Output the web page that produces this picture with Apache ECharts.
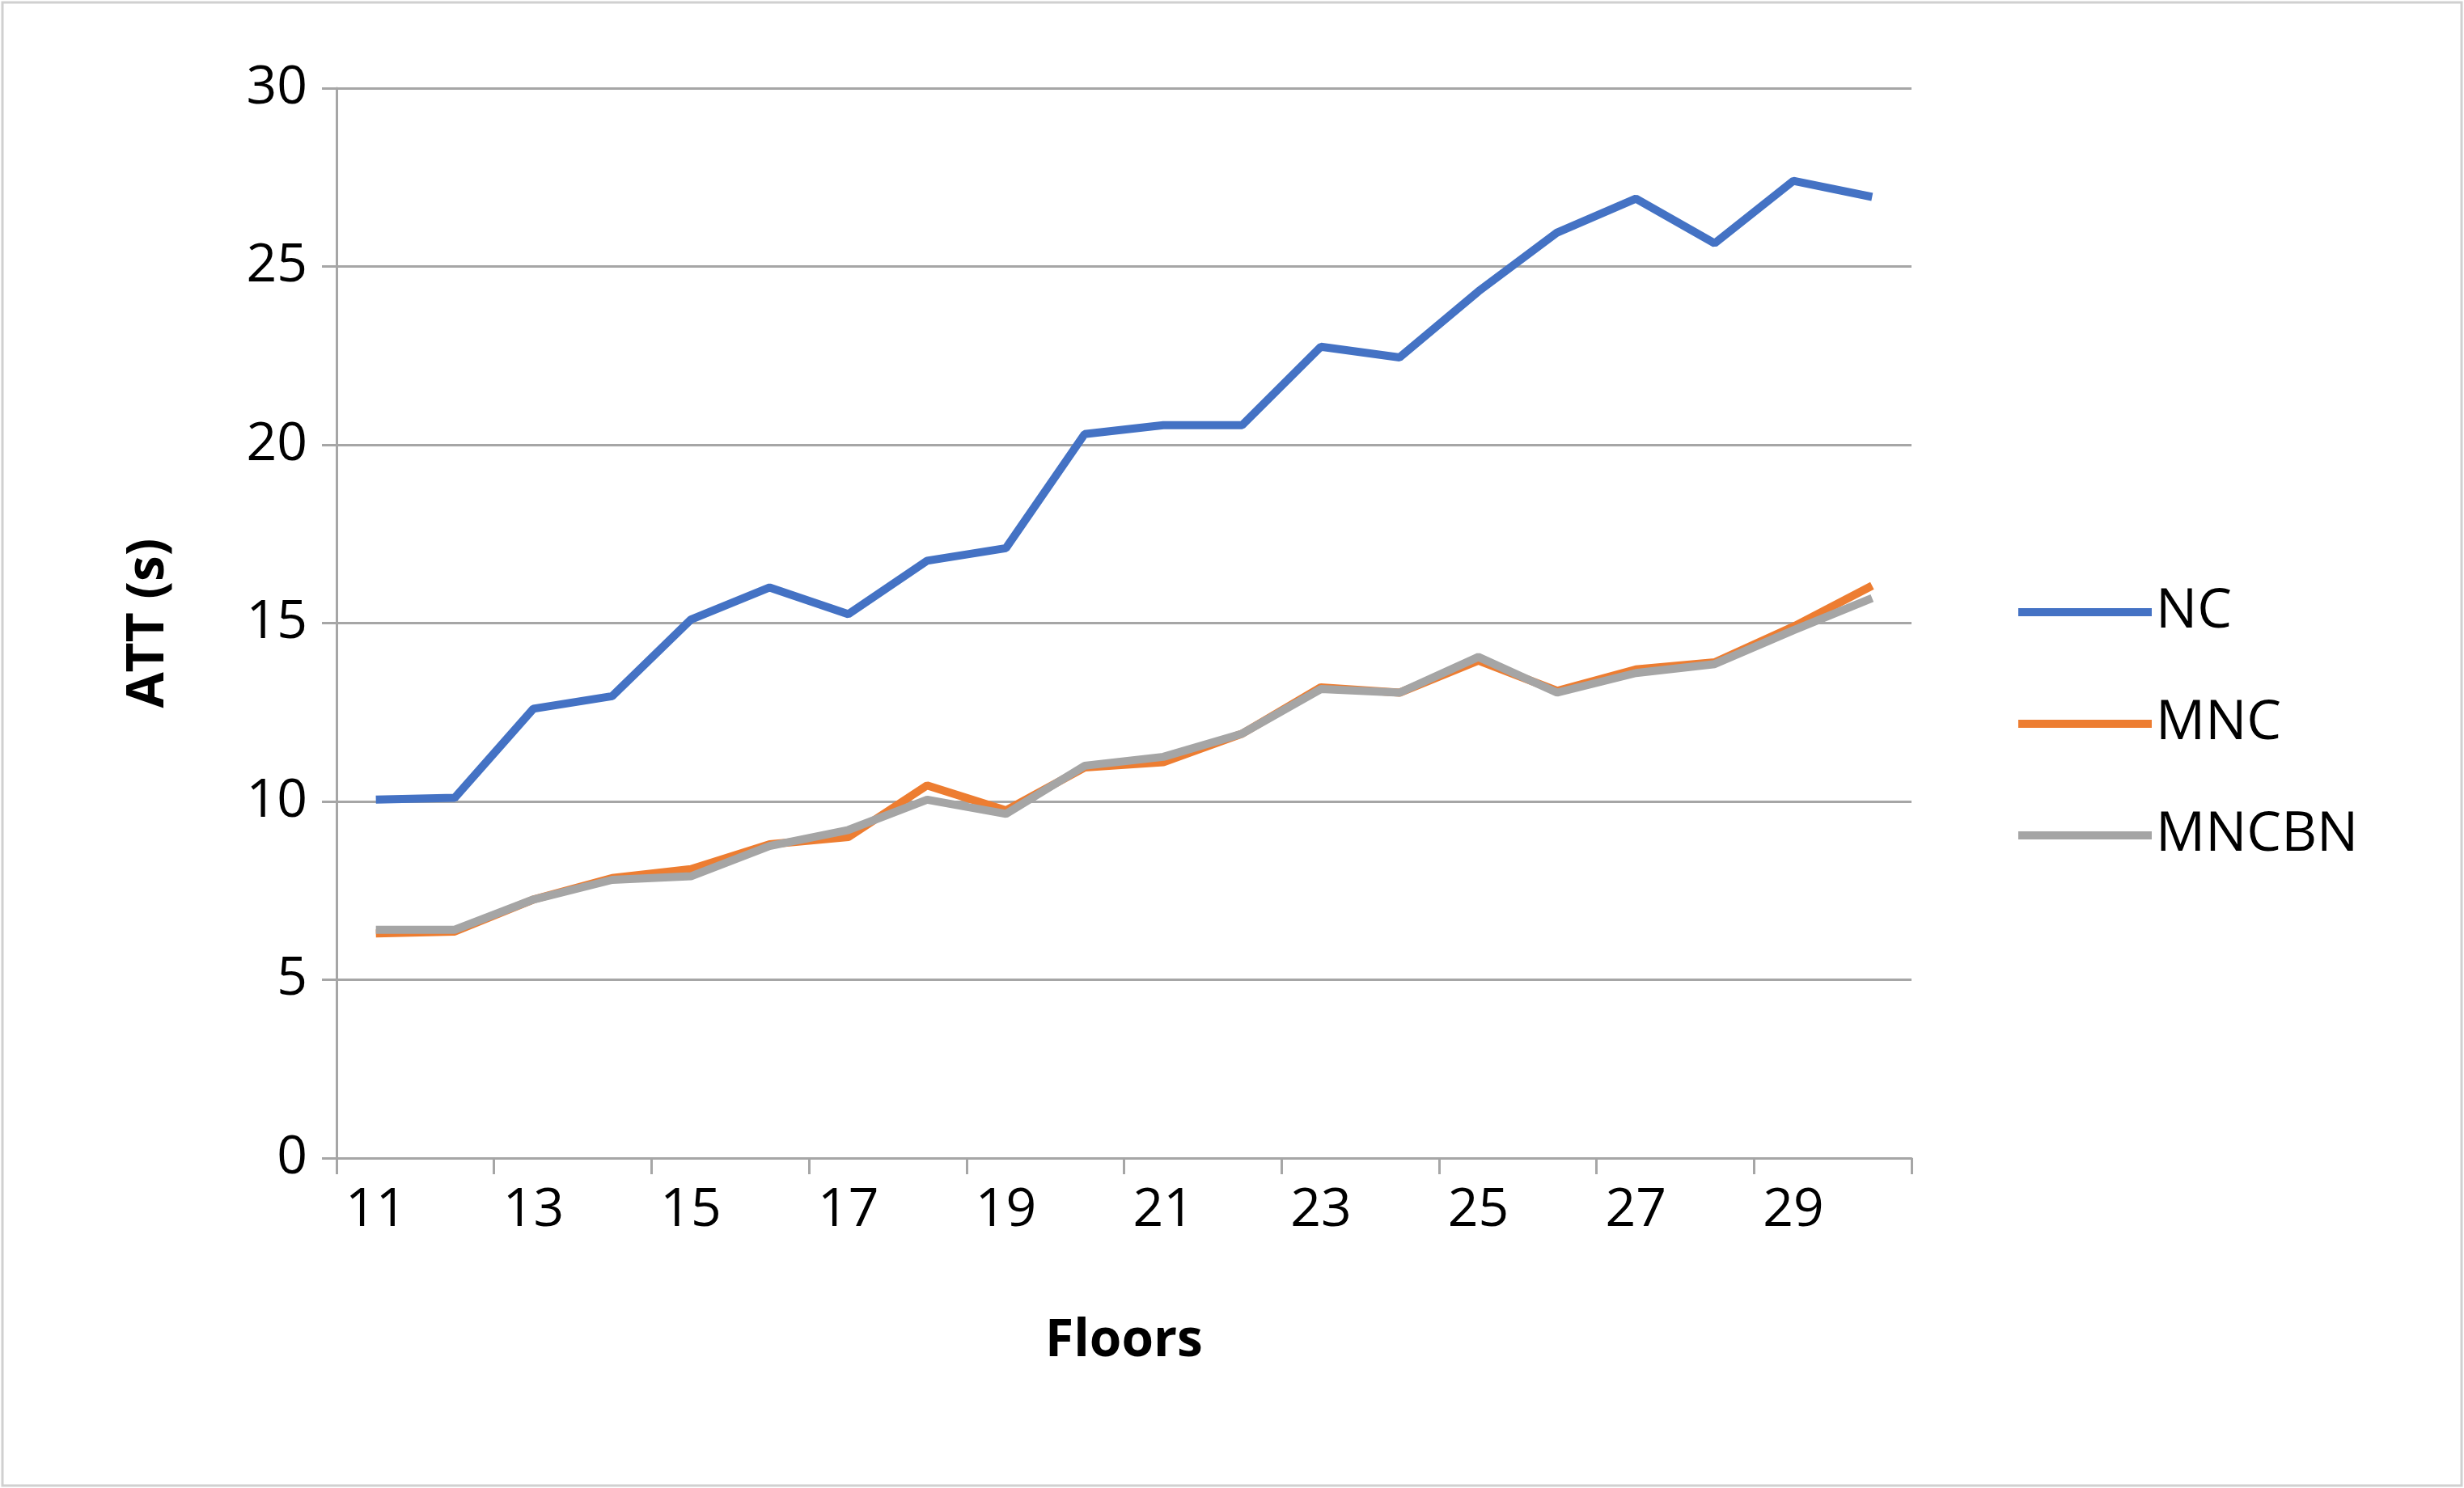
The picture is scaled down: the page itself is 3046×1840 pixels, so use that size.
<!DOCTYPE html>
<html>
<head>
<meta charset="utf-8">
<script src="https://cdn.jsdelivr.net/npm/echarts@6/dist/echarts.min.js"></script>
<style>html,body{margin:0;padding:0;background:#fff}#chart{width:3046px;height:1840px}</style>
</head>
<body>
<div id="chart"></div>
<script>
// 楼层
var floors = ['11','12','13','14','15','16','17','18','19','20','21','22','23','24','25','26','27','28','29','30'];
// 各方案的ATT
var ncData = [10.05, 10.1, 12.6, 12.95, 15.1, 16.0, 15.25, 16.75, 17.1, 20.3, 20.55, 20.55, 22.75, 22.45, 24.3, 25.95, 26.9, 25.65, 27.4, 26.95];
var mncData = [6.3, 6.35, 7.25, 7.85, 8.1, 8.8, 9.0, 10.45, 9.75, 10.95, 11.1, 11.9, 13.2, 13.05, 13.95, 13.1, 13.7, 13.9, 14.9, 16.05];
var mncbnData = [6.4, 6.4, 7.25, 7.8, 7.9, 8.75, 9.2, 10.05, 9.65, 11.0, 11.25, 11.9, 13.15, 13.05, 14.05, 13.05, 13.6, 13.85, 14.8, 15.7];

var font = '"Open Sans", sans-serif';
var chart = echarts.init(document.getElementById('chart'));
function line(name, data, color) {
	return {
		name: name,
		type: 'line',
		data: data,
		symbol: 'none',
		lineStyle: { width: 10, color: color },
		itemStyle: { color: color }
	};
}
chart.setOption({
	animation: false,
	textStyle: { fontFamily: font },
	graphic: [{
		type: 'rect',
		shape: { x: 3, y: 3, width: 3040, height: 1834 },
		style: { fill: 'none', stroke: '#d0d0d0', lineWidth: 3 }
	}],
	legend: {
		orient: 'vertical',
		left: 2490,
		top: 718,
		itemGap: 70,
		itemWidth: 165,
		itemHeight: 10,
		icon: 'rect',
		data: ['NC', 'MNC', 'MNCBN'],
		textStyle: { fontSize: 68, color: '#000', fontFamily: font }
	},
	grid: { left: 416, right: 683, top: 109, bottom: 408 },
	xAxis: {
		type: 'category',
		data: floors,
		boundaryGap: true,
		name: 'Floors',
		nameLocation: 'middle',
		nameGap: 195,
		nameTextStyle: { fontSize: 64, fontWeight: 'bold', color: '#000' },
		axisLine: { lineStyle: { color: '#a6a6a6', width: 3 } },
		axisTick: { show: true, length: 20, lineStyle: { color: '#a6a6a6', width: 3 } },
		axisLabel: { fontSize: 66, color: '#000', margin: 32 }
	},
	yAxis: {
		type: 'value',
		min: 0,
		max: 30,
		interval: 5,
		name: 'ATT (s)',
		nameLocation: 'middle',
		nameGap: 200,
		nameTextStyle: { fontSize: 64, fontWeight: 'bold', color: '#000' },
		axisLine: { show: true, lineStyle: { color: '#a6a6a6', width: 3 } },
		axisTick: { show: true, length: 18, lineStyle: { color: '#a6a6a6', width: 3 } },
		splitLine: { lineStyle: { color: '#a6a6a6', width: 3 } },
		axisLabel: { fontSize: 66, color: '#000', margin: 36 }
	},
	series: [
		line('NC', ncData, '#4472C4'),
		line('MNC', mncData, '#ED7D31'),
		line('MNCBN', mncbnData, '#A5A5A5')
	]
});
</script>
</body>
</html>
